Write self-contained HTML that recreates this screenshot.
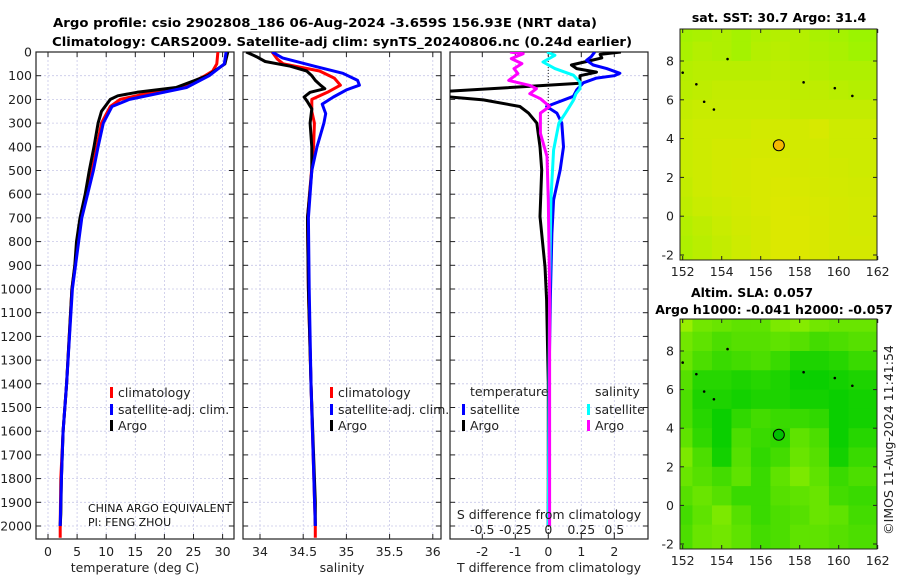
<!DOCTYPE html>
<html><head><meta charset="utf-8"><style>
html,body{margin:0;padding:0;background:#fff;width:900px;height:580px;overflow:hidden}
svg{display:block;font-family:"DejaVu Sans","Liberation Sans",sans-serif}
</style></head><body>
<svg id="fig" width="900" height="580" viewBox="0 0 900 580" xmlns="http://www.w3.org/2000/svg">
<defs>
<clipPath id="c1"><rect x="36" y="52" width="198" height="487"/></clipPath>
<clipPath id="c2"><rect x="243" y="52" width="198" height="487"/></clipPath>
<clipPath id="c3"><rect x="450" y="52" width="198" height="487"/></clipPath>
</defs>
<g font-weight="bold" font-size="12.5" fill="#000" text-anchor="middle">
<text x="325" y="27" textLength="544" lengthAdjust="spacingAndGlyphs">Argo profile: csio 2902808_186 06-Aug-2024 -3.659S 156.93E (NRT data)</text>
<text x="342" y="46" textLength="580" lengthAdjust="spacingAndGlyphs">Climatology: CARS2009. Satellite-adj clim: synTS_20240806.nc (0.24d earlier)</text>
</g>
<g id="g1"></g>
<g id="g2"></g>
<g id="g3"></g>
<g id="g4"></g>
<g id="g5"></g>
<text x="893" y="440" font-size="12.5" fill="#222" text-anchor="middle" transform="rotate(-90 893 440)">©IMOS 11-Aug-2024 11:41:54</text>
</svg>
<script>
// ---- data ----
const depthTicks=[0,100,200,300,400,500,600,700,800,900,1000,1100,1200,1300,1400,1500,1600,1700,1800,1900,2000];
const tempTicks=[0,5,10,15,20,25,30];
const salTicks=[34,34.5,35,35.5,36];
const tdTicks=[-2,-1,0,1,2];
const sdTicks=[-0.5,-0.25,0,0.25,0.5];
const sdTickLabels=["-0.5","-0.25","0","0.25","0.5"];
const lonTicks=[152,154,156,158,160,162];
const latTicks=[-2,0,2,4,6,8];

const argoTD=[0,50,100,150,170,185,200,250,300,400,500,600,700,800,900,1000,1400,1600,1800,1950,2000];
const argoT=[30.9,30.4,27.4,22,15.3,12,10.7,9.2,8.6,7.9,7.1,6.4,5.5,4.9,4.6,4.1,3.2,2.6,2.3,2.2,2.1];
const climTD=[0,50,80,100,150,175,200,230,300,400,500,700,1000,1400,1600,1800,2000,2050];
const climT=[29.2,29,28.3,27,23,17,12.4,10.7,9.2,8.4,7.6,5.7,4.1,3.2,2.6,2.2,2.1,2.1];
const satTD=[0,50,100,150,200,230,300,400,500,700,1000,1400,1600,1800,2000];
const satT=[30.6,30.3,27.7,23.8,14,11,9.5,8.6,7.8,5.8,4.2,3.2,2.6,2.3,2.1];

const argoSD=[0,20,40,60,80,100,120,140,155,170,190,210,240,300,400,500,700,1000,1400,1900,2000];
const argoS=[33.84,33.96,34.06,34.35,34.54,34.6,34.64,34.7,34.75,34.58,34.51,34.55,34.6,34.58,34.6,34.6,34.55,34.56,34.59,34.64,34.64];
const climSD=[0,30,50,80,110,140,170,200,250,300,400,700,1000,1400,2000,2050];
const climS=[34.14,34.2,34.27,34.69,34.86,34.93,34.78,34.6,34.6,34.63,34.62,34.55,34.56,34.59,34.64,34.64];
const satSD=[0,25,60,90,120,140,160,190,220,260,300,400,500,700,1000,1400,2000];
const satS=[34.14,34.26,34.63,34.96,35.13,35.15,35,34.85,34.72,34.76,34.74,34.66,34.6,34.56,34.57,34.59,34.64];

const tdArgoD=[0,10,25,40,55,70,85,100,132,167,187,202,230,258,300,400,497,694,906,1046,1400,2000];
const tdArgo=[2.2,1.57,1.62,1.16,0.7,0.86,1.46,0.96,0.96,-3.2,-3.2,-1.97,-0.86,-0.6,-0.35,-0.25,-0.2,-0.25,-0.1,-0.05,0,0];
const tdSatD=[0,20,35,55,70,90,100,110,130,160,187,230,258,300,400,497,624,765,1046,1400,2000];
const tdSat=[1.41,1.3,1.16,1.36,1.77,2.17,2.0,1.46,1.06,0.86,0.76,-0.05,0.26,0.41,0.46,0.36,0.16,0.11,0.06,0.02,0];
const sdArgoD=[0,7,28,49,70,91,120,141,155,176,197,230,258,343,441,624,1000,2000];
const sdArgo=[-0.29,-0.19,-0.28,-0.2,-0.26,-0.23,-0.3,-0.14,-0.09,-0.14,-0.06,0.01,-0.06,-0.06,-0.01,0,0.01,0.01];
const sdSatD=[0,14,42,70,98,127,155,176,204,258,300,413,624,1000,2000];
const sdSat=[-0.01,0.05,-0.04,0.05,0.19,0.24,0.24,0.21,0.19,0.13,0.08,0.04,0.02,0.01,0];

// SST grid (rows north->south, 10 lon columns), normalized 0 (green) .. 1 (orange-yellow)
const sstGrid=[
[0.15,0.2,0.25,0.15,0.25,0.3,0.3,0.2,0.15,0.05],
[0.2,0.3,0.25,0.15,0.3,0.35,0.3,0.25,0.2,0.1],
[0.3,0.35,0.35,0.35,0.35,0.4,0.35,0.3,0.25,0.25],
[0.35,0.4,0.45,0.45,0.45,0.45,0.4,0.4,0.35,0.3],
[0.45,0.5,0.5,0.5,0.5,0.5,0.45,0.45,0.45,0.45],
[0.5,0.55,0.55,0.55,0.6,0.6,0.6,0.65,0.55,0.55],
[0.5,0.55,0.6,0.6,0.62,0.62,0.6,0.6,0.55,0.55],
[0.5,0.55,0.6,0.62,0.65,0.65,0.62,0.6,0.58,0.55],
[0.45,0.55,0.6,0.62,0.65,0.68,0.65,0.62,0.6,0.58],
[0.4,0.5,0.55,0.6,0.65,0.7,0.68,0.65,0.62,0.6],
[0.3,0.4,0.5,0.58,0.62,0.7,0.7,0.66,0.62,0.6],
[0.25,0.35,0.45,0.55,0.62,0.7,0.7,0.66,0.62,0.62]];
// SLA grid, normalized 0 (dark green) .. 1 (light yellow-green)
const slaGrid=[
[0.8,0.6,0.55,0.5,0.5,0.65,0.7,0.6,0.55,0.55],
[0.6,0.5,0.4,0.45,0.45,0.5,0.45,0.35,0.4,0.45],
[0.55,0.4,0.3,0.35,0.4,0.3,0.15,0.15,0.2,0.3],
[0.45,0.2,0.2,0.15,0.2,0.15,0.05,0.05,0.1,0.15],
[0.4,0.15,0.15,0.1,0.15,0.15,0.1,0.1,0.05,0.1],
[0.4,0.2,0.05,0.25,0.35,0.3,0.3,0.25,0.05,0.1],
[0.5,0.25,0.05,0.4,0.3,0.25,0.5,0.4,0.05,0.2],
[0.65,0.4,0.1,0.45,0.25,0.35,0.55,0.45,0.1,0.3],
[0.55,0.45,0.35,0.5,0.3,0.5,0.65,0.5,0.3,0.4],
[0.45,0.55,0.45,0.3,0.3,0.45,0.5,0.55,0.35,0.3],
[0.35,0.5,0.65,0.45,0.3,0.4,0.45,0.55,0.5,0.35],
[0.4,0.55,0.6,0.5,0.35,0.4,0.5,0.5,0.45,0.4]];
const mapLat=[9.5,8.5,7.5,6.5,5.5,4.5,3.5,2.5,1.5,0.5,-0.5,-1.5];
const mapLon=[152,153,154,155,156,157,158,159,160,161];
const floatLon=156.93, floatLat=3.66;

// ---- helpers ----
const NS="http://www.w3.org/2000/svg";
function mk(parent,tag,attrs,text){const e=document.createElementNS(NS,tag);for(const k in attrs)e.setAttribute(k,attrs[k]);if(text!==undefined)e.textContent=text;parent.appendChild(e);return e;}
const yD=d=>52+d*0.237;
const xT=t=>48+t*5.82;
const xS=s=>260+(s-34)*86.4;
const xTd=v=>548.3+v*33;
const xSd=v=>548.3+v*132;
const mx=l=>682.7+(l-152)*19.5;
const my1=l=>61+(8-l)*19.4;
const my2=l=>351+(8-l)*19.3;

function frame(g,x0,x1,xticks,xfn,labels,showY){
  const y0=52,y1=539;
  depthTicks.forEach(d=>{const l=mk(g,'line',{x1:x0,x2:x1,y1:yD(d),y2:yD(d),stroke:'#c8c8e8','stroke-dasharray':'2,2','stroke-width':0.8});});
  xticks.forEach(v=>{const l=mk(g,'line',{x1:xfn(v),x2:xfn(v),y1:y0,y2:y1,stroke:'#c8c8e8','stroke-dasharray':'2,2','stroke-width':0.8});});
  depthTicks.forEach(d=>{mk(g,'line',{x1:x0,x2:x0+5,y1:yD(d),y2:yD(d),stroke:'#222'});mk(g,'line',{x1:x1-5,x2:x1,y1:yD(d),y2:yD(d),stroke:'#222'});
    if(showY){const t=mk(g,'text',{x:x0-4,y:yD(d)+4.5,'font-size':12.5,fill:'#222','text-anchor':'end'},String(d));}});
  xticks.forEach((v,i)=>{mk(g,'line',{x1:xfn(v),x2:xfn(v),y1:y1,y2:y1-5,stroke:'#222'});mk(g,'line',{x1:xfn(v),x2:xfn(v),y1:y0,y2:y0+5,stroke:'#222'});
    const t=mk(g,'text',{x:xfn(v),y:556,'font-size':12.5,fill:'#222','text-anchor':'middle'},labels[i]);});
  const r=mk(g,'rect',{x:x0,y:y0,width:x1-x0,height:y1-y0,fill:'none',stroke:'#222','stroke-width':1.2});
  
}
function prof(g,clip,D,V,xfn,color,name,w){
  const pts=D.map((d,i)=>xfn(V[i]).toFixed(1)+','+yD(d).toFixed(1)).join(' ');
  const p=mk(g,'polyline',{points:pts,fill:'none',stroke:color,'stroke-width':w||3,'stroke-linejoin':'round','clip-path':'url(#'+clip+')'});
  
}
function legend(g,x,y,color,label){
  const r=mk(g,'rect',{x:x,y:y-9,width:3,height:11,fill:color});
  const t=mk(g,'text',{x:x+8,y:y+1,'font-size':12.5,fill:'#222'},label);
}

// Panel 1
const g1=document.getElementById('g1');
frame(g1,36,234,tempTicks,xT,tempTicks.map(String),true);
prof(g1,'c1',climTD,climT,xT,'#ff0000','climatology-temp-line');
prof(g1,'c1',argoTD,argoT,xT,'#000','argo-temp-line');
prof(g1,'c1',satTD,satT,xT,'#0000ff','satellite-temp-line');
legend(g1,110,396,'#ff0000','climatology');legend(g1,110,413,'#0000ff','satellite-adj. clim.');legend(g1,110,429,'#000','Argo');
mk(g1,'text',{x:88,y:512,'font-size':11,fill:'#111'},'CHINA ARGO EQUIVALENT');
mk(g1,'text',{x:88,y:526,'font-size':11,fill:'#111'},'PI: FENG ZHOU');
mk(g1,'text',{x:135,y:572,'font-size':12.5,fill:'#222','text-anchor':'middle'},'temperature (deg C)');

// Panel 2
const g2=document.getElementById('g2');
frame(g2,243,441,salTicks,xS,salTicks.map(String),false);
prof(g2,'c2',climSD,climS,xS,'#ff0000','climatology-salinity-line');
prof(g2,'c2',argoSD,argoS,xS,'#000','argo-salinity-line');
prof(g2,'c2',satSD,satS,xS,'#0000ff','satellite-salinity-line');
legend(g2,330,396,'#ff0000','climatology');legend(g2,330,413,'#0000ff','satellite-adj. clim.');legend(g2,330,429,'#000','Argo');
mk(g2,'text',{x:342,y:572,'font-size':12.5,fill:'#222','text-anchor':'middle'},'salinity');

// Panel 3
const g3=document.getElementById('g3');
frame(g3,450,648,tdTicks,xTd,tdTicks.map(String),false);
mk(g3,'line',{x1:548.3,x2:548.3,y1:52,y2:539,stroke:'#444','stroke-dasharray':'1,2','stroke-width':1.2});
prof(g3,'c3',tdArgoD,tdArgo,xTd,'#000','argo-temp-diff-line');
prof(g3,'c3',tdSatD,tdSat,xTd,'#0000ff','satellite-temp-diff-line');
prof(g3,'c3',sdSatD,sdSat,xSd,'#00ffff','satellite-sal-diff-line');
prof(g3,'c3',sdArgoD,sdArgo,xSd,'#ff00ff','argo-sal-diff-line');
mk(g3,'text',{x:470,y:396,'font-size':12.5,fill:'#222'},'temperature');
mk(g3,'text',{x:595,y:396,'font-size':12.5,fill:'#222'},'salinity');
legend(g3,462,413,'#0000ff','satellite');legend(g3,462,429,'#000','Argo');
legend(g3,587,413,'#00ffff','satellite');legend(g3,587,429,'#ff00ff','Argo');
mk(g3,'text',{x:549,y:519,'font-size':12.5,fill:'#222','text-anchor':'middle'},'S difference from climatology');
sdTicks.forEach((v,i)=>{const t=mk(g3,'text',{x:xSd(v),y:534,'font-size':12.5,fill:'#222','text-anchor':'middle'},sdTickLabels[i]);});
mk(g3,'text',{x:549,y:572,'font-size':12.5,fill:'#222','text-anchor':'middle'},'T difference from climatology');

// Maps
function lerp(a,b,t){return a.map((v,i)=>Math.round(v+(b[i]-v)*t));}
function drawMap(g,grid,c0,c1,myf,yTop,yBot,title,dotFill){
  const x0=680,x1=877;
  const nR=grid.length, nC=grid[0].length;
  grid.forEach((row,ri)=>row.forEach((v,ci)=>{
    const c=lerp(c0,c1,v);
    const la=mapLat[ri],lo=mapLon[ci];
    const xa=ci===0?x0:mx(lo-0.5), xb=ci===nC-1?x1:mx(lo+0.5);
    const ya=ri===0?yTop:myf(la+0.5), yb=ri===nR-1?yBot:myf(la-0.5);
    const r=mk(g,'rect',{x:xa,y:ya,width:xb-xa+0.5,height:yb-ya+0.5,fill:'rgb('+c.join(',')+')'});
    
    
  }));
  [[152,7.4],[154.3,8.1],[158.2,6.9],[153.6,5.5],[159.8,6.6],[160.7,6.2],[152.7,6.8],[153.1,5.9]].forEach(p=>mk(g,'circle',{cx:mx(p[0]),cy:myf(p[1]),r:1.3,fill:'#000'}));
  const f=mk(g,'circle',{cx:mx(floatLon),cy:myf(floatLat),r:5.5,fill:dotFill,stroke:'#000','stroke-width':1});
  
  mk(g,'rect',{x:x0,y:yTop,width:x1-x0,height:yBot-yTop,fill:'none',stroke:'#222'});
  lonTicks.forEach(l=>{mk(g,'line',{x1:mx(l),x2:mx(l),y1:yBot,y2:yBot-4,stroke:'#222'});mk(g,'line',{x1:mx(l),x2:mx(l),y1:yTop,y2:yTop+4,stroke:'#222'});
    const t=mk(g,'text',{x:mx(l),y:yBot+16,'font-size':12.5,fill:'#222','text-anchor':'middle'},String(l));});
  latTicks.forEach(l=>{mk(g,'line',{x1:x0,x2:x0+4,y1:myf(l),y2:myf(l),stroke:'#222'});mk(g,'line',{x1:x1-4,x2:x1,y1:myf(l),y2:myf(l),stroke:'#222'});
    const t=mk(g,'text',{x:x0-6,y:myf(l)+4.5,'font-size':12.5,fill:'#222','text-anchor':'end'},String(l));});
  title.forEach(s=>{const t=mk(g,'text',{x:s[1],y:s[2],'font-size':12.5,'font-weight':'bold',fill:'#000','text-anchor':'middle'},s[0]);});
}
drawMap(document.getElementById('g4'),sstGrid,[150,245,0],[250,226,0],my1,29,260,[['sat. SST: 30.7 Argo: 31.4',779,22]],'#f5b800');
drawMap(document.getElementById('g5'),slaGrid,[0,205,0],[190,248,0],my2,319,549,[['Altim. SLA: 0.057',752,297],['Argo h1000: -0.041 h2000: -0.057',774,314]],'#00c000');
</script>
</body></html>
